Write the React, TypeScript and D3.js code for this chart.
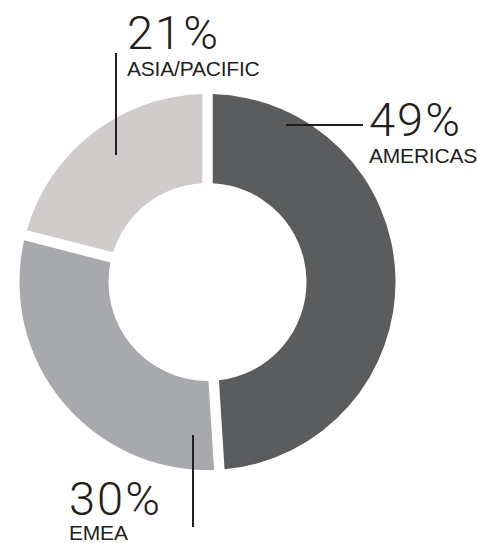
import React from 'react';
import * as d3 from 'd3';

const regions = ['AMERICAS', 'EMEA', 'ASIA/PACIFIC'];
const shares = [49, 30, 21];
const colors = ['#5b5c5e', '#a8a9ac', '#cfcccb'];

const width = 478;
const height = 543;
const cx = 207.5;
const cy = 282;
const outerR = 188;
const innerR = 99;

// where each label sits and where its leader line runs (x1,y1 inside the slice)
const labelLayout = [
    { x: 369, y: 136, line: [286, 125, 363, 125] },
    { x: 69, y: 515, line: [193, 435, 193, 527] },
    { x: 127, y: 49, line: [116, 155, 116, 53] },
];

const App: React.FC = () => {
    const pie = d3.pie<number>().value(d => d).sort(null);
    const arc = d3.arc<d3.PieArcDatum<number>>()
        .innerRadius(innerR)
        .outerRadius(outerR)
        .padRadius(100)
        .padAngle(0.105);

    const arcs = pie(shares);

    return (
        <svg width={width} height={height} style={{ position: 'absolute', left: 0, top: 0 }}>
            <g transform={`translate(${cx},${cy})`}>
                {arcs.map((a, i) => (
                    <path key={regions[i]} d={arc(a) || ''} fill={colors[i]} />
                ))}
            </g>
            {labelLayout.map((l, i) => (
                <g key={regions[i]}>
                    <line
                        x1={l.line[0]}
                        y1={l.line[1]}
                        x2={l.line[2]}
                        y2={l.line[3]}
                        stroke="#231f20"
                        strokeWidth={2}
                    />
                    <text
                        x={l.x}
                        y={l.y}
                        fontFamily="Roboto, 'Liberation Sans', sans-serif"
                        fontWeight={300}
                        fontSize={47}
                        letterSpacing={2}
                        fill="#231f20"
                    >
                        {shares[i]}%
                    </text>
                    <text
                        x={l.x}
                        y={Math.min(l.y + 27, height - 3)}
                        fontFamily="'Liberation Sans', Arial, sans-serif"
                        fontSize={21}
                        letterSpacing={-0.2}
                        fill="#231f20"
                    >
                        {regions[i]}
                    </text>
                </g>
            ))}
        </svg>
    );
};

export default App;
